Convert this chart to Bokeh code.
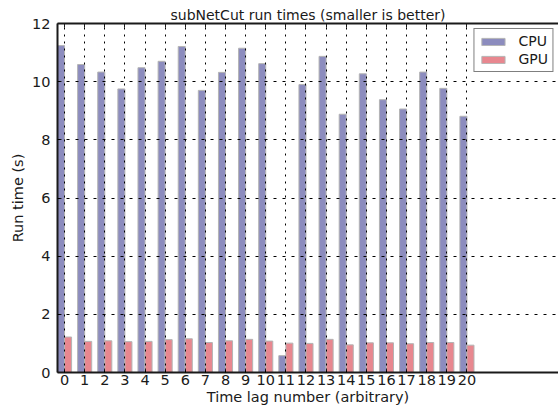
from bokeh.plotting import figure
from bokeh.models import (FixedTicker, LinearAxis, Range1d, Legend, LegendItem,
                          ColumnDataSource, CustomJSTickFormatter)
from bokeh.embed import file_html
from bokeh.resources import INLINE

lags = list(range(21))
cpu = [11.24, 10.59, 10.33, 9.75, 10.48, 10.70, 11.21, 9.70, 10.32, 11.15, 10.62,
       0.58, 9.90, 10.87, 8.88, 10.27, 9.38, 9.06, 10.33, 9.77, 8.81]
gpu = [1.22, 1.07, 1.09, 1.06, 1.07, 1.13, 1.16, 1.03, 1.09, 1.14, 1.08,
       1.01, 1.00, 1.14, 0.95, 1.02, 1.02, 0.99, 1.03, 1.03, 0.94]
y_ticks = [0, 2, 4, 6, 8, 10, 12]

FONT = "DejaVu Sans"
W = 0.35

src = ColumnDataSource(dict(
    x_cpu=[i - W / 2 for i in lags],
    x_gpu=[i + W / 2 for i in lags],
    cpu=cpu, gpu=gpu))

p = figure(width=558, height=412, output_backend="svg", toolbar_location=None,
           x_range=Range1d(-0.35, 24.55), y_range=Range1d(0, 12),
           min_border_left=57, min_border_right=0, min_border_top=23, min_border_bottom=40)

r_cpu = p.vbar(x="x_cpu", top="cpu", width=W, source=src, fill_color="#8c8cbe",
               line_color="#b4b4b4", line_width=1)
r_gpu = p.vbar(x="x_gpu", top="gpu", width=W, source=src, fill_color="#e8878f",
               line_color="#b4b4b4", line_width=1)

p.title.text = "subNetCut run times (smaller is better)"
p.title.text_font = FONT
p.title.text_font_size = "14px"
p.title.text_font_style = "normal"
p.title.text_color = "#1a1a1a"
p.title.align = "center"
p.title.standoff = 2

p.outline_line_color = None

xt = FixedTicker(ticks=lags)
yt = FixedTicker(ticks=y_ticks)

for ax in [p.xaxis[0], p.yaxis[0]]:
    ax.axis_line_width = 2
    ax.axis_line_color = "#1a1a1a"
    ax.major_tick_in = 4
    ax.major_tick_out = 0
    ax.minor_tick_in = 0
    ax.minor_tick_out = 0
    ax.major_tick_line_color = "#1a1a1a"
    ax.major_label_text_font = FONT
    ax.major_label_text_font_size = "14.5px"
    ax.major_label_text_color = "#1a1a1a"
    ax.axis_label_text_font = FONT
    ax.axis_label_text_font_size = "14.5px"
    ax.axis_label_text_font_style = "normal"
    ax.axis_label_text_color = "#1a1a1a"

p.xaxis[0].ticker = xt
p.yaxis[0].ticker = yt
p.xaxis[0].axis_label = "Time lag number (arbitrary)"
p.yaxis[0].axis_label = "Run time (s)"
p.xaxis[0].major_label_standoff = 2
p.xaxis[0].axis_label_standoff = 1
p.yaxis[0].major_label_standoff = 7
p.yaxis[0].axis_label_standoff = 3

top = LinearAxis(ticker=xt, axis_line_width=2, axis_line_color="#1a1a1a",
                 major_tick_in=4, major_tick_out=0, minor_tick_in=0, minor_tick_out=0,
                 major_tick_line_color="#1a1a1a",
                 formatter=CustomJSTickFormatter(code="return ''"),
                 major_label_standoff=0)
p.add_layout(top, "above")

p.xgrid.ticker = xt
p.ygrid.ticker = yt
for g in [p.xgrid[0], p.ygrid[0]]:
    g.grid_line_color = "black"
    g.grid_line_width = 1
    g.level = "overlay"
p.xgrid[0].grid_line_dash = "2 5"
p.ygrid[0].grid_line_dash = "3 6"

legend = Legend(items=[LegendItem(label="CPU", renderers=[r_cpu]),
                       LegendItem(label="GPU", renderers=[r_gpu])],
                location="top_right", margin=5, padding=4, spacing=2,
                glyph_width=29, glyph_height=9, label_height=15, label_standoff=11,
                label_text_font=FONT, label_text_font_size="14px",
                label_text_color="#1a1a1a",
                border_line_color="black", border_line_width=1.5,
                background_fill_alpha=1.0)
p.add_layout(legend)

open("out.html", "w").write(file_html(p, INLINE))
